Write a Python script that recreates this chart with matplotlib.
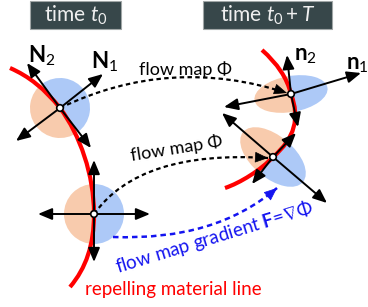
import matplotlib.pyplot as plt
from matplotlib.patches import Wedge, Rectangle, FancyArrowPatch, PathPatch, Circle
from matplotlib.path import Path
from matplotlib.transforms import Affine2D

plt.rcParams['font.family'] = ['Lato', 'DejaVu Sans']
plt.rcParams['mathtext.fontset'] = 'custom'
plt.rcParams['mathtext.rm'] = 'Lato'
plt.rcParams['mathtext.it'] = 'Lato:italic'
plt.rcParams['mathtext.bf'] = 'Lato:bold'
plt.rcParams['mathtext.fallback'] = 'stixsans'

# material points (picture pixels, y down)
p_tl = (60, 108)   # time t0, upper
p_bl = (94, 214)   # time t0, lower
p_tr = (291, 94)   # time t0+T, upper
p_br = (273, 157)  # time t0+T, lower

# tips of the double arrows through each point
tips_tl = [(27, 63), (91, 148), (103, 74), (16, 141)]
tips_bl = [(94, 160), (94, 262), (38, 214), (150, 214)]
tips_tr = [(287, 55), (298, 127), (361, 73), (224, 107)]
tips_br = [(296, 133), (252, 184), (327, 203), (222, 113)]

# red material lines (bezier control points)
red_left = [(10, 68), (38, 80), (60, 108), (80, 135), (94, 175), (94, 214),
            (94, 245), (86, 268), (70, 287)]
red_left_codes = [Path.MOVETO, Path.CURVE3, Path.CURVE3] + [Path.CURVE4] * 6
red_right = [(262, 50), (285, 70), (291, 94), (300, 118), (295, 138), (273, 157),
             (261, 170), (240, 183), (225, 188)]
red_right_codes = red_left_codes

# flow map curves (quadratic: start, control, end)
flow_top = [(60, 108), (170, 55), (287, 93)]
flow_mid = [(94, 214), (140, 150), (268, 158)]
flow_grad = [(113, 237), (215, 241), (277, 188)]

orange = '#f8cbad'
blue = '#adc9f7'
red = '#ff0000'
dblue = '#1414f0'

fig = plt.figure(figsize=(3.68, 3.07), dpi=100)
ax = fig.add_axes([0, 0, 1, 1])
ax.set_xlim(0, 368)
ax.set_ylim(307, 0)
ax.set_aspect('equal')
ax.axis('off')

# title boxes
for (x0, x1), txt in [((30, 121), 'time $t_{\\mathit{0}}$'),
                      ((203, 332), 'time $t_{\\mathit{0}} + T$')]:
    ax.add_patch(Rectangle((x0, 1), x1 - x0, 28, fc='#37474a', ec='#a0a6a6', lw=0.8))
    ax.text((x0 + x1) / 2, 15, txt, color='#f0f0f0', fontsize=15,
            ha='center', va='center')

# disks / ellipses split by the material line
def half_shape(c, a, b, ang, t1, t2, col):
    tr = Affine2D().scale(a, b).rotate_deg(ang).translate(*c) + ax.transData
    ax.add_patch(Wedge((0, 0), 1, t1, t2, fc=col, ec='none', transform=tr))

half_shape(p_tl, 30, 30, -126, 0, 180, blue)
half_shape(p_tl, 30, 30, -126, 180, 360, orange)
half_shape(p_bl, 30, 30, 0, -90, 90, blue)
half_shape(p_bl, 30, 30, 0, 90, 270, orange)
half_shape(p_tr, 37, 18, -10, -90, 90, blue)
half_shape(p_tr, 37, 18, -10, 90, 270, orange)
half_shape(p_br, 39, 21, 40, -90, 90, blue)
half_shape(p_br, 39, 21, 40, 90, 270, orange)

# red lines
for pts, codes in [(red_left, red_left_codes), (red_right, red_right_codes)]:
    ax.add_patch(PathPatch(Path(pts, codes), fc='none', ec=red, lw=3,
                           capstyle='butt'))

# dashed flow map arrows
def dashed_arrow(pts, col, ls, lw):
    ax.add_patch(PathPatch(Path(pts, [Path.MOVETO, Path.CURVE3, Path.CURVE3]),
                           fc='none', ec=col, lw=lw, ls=ls))
    (cx, cy), (ex, ey) = pts[1], pts[2]
    d = ((ex - cx) ** 2 + (ey - cy) ** 2) ** 0.5
    start = (ex - 4 * (ex - cx) / d, ey - 4 * (ey - cy) / d)
    ax.add_patch(FancyArrowPatch(start, (ex, ey), color=col, lw=0.5,
                                 arrowstyle='-|>,head_length=0.6,head_width=0.25',
                                 mutation_scale=14, shrinkA=0, shrinkB=0))

dashed_arrow(flow_top, 'k', (0, (2, 1.5)), 1.6)
dashed_arrow(flow_mid, 'k', (0, (2, 1.5)), 1.6)
dashed_arrow(flow_grad, dblue, (0, (2.2, 1.6)), 1.8)

# solid double arrows
for c, tips in [(p_tl, tips_tl), (p_bl, tips_bl), (p_tr, tips_tr), (p_br, tips_br)]:
    for t in tips:
        ax.add_patch(FancyArrowPatch(c, t, color='k', lw=1.4,
                                     arrowstyle='-|>,head_length=0.6,head_width=0.25',
                                     mutation_scale=14, shrinkA=0, shrinkB=0))
    ax.add_patch(Circle(c, 3.3, fc='white', ec='k', lw=1.2, zorder=5))

# labels
ax.text(42, 56, '$\\mathbf{N}_2$', fontsize=16, ha='center', va='center')
ax.text(105, 62, '$\\mathbf{N}_1$', fontsize=16, ha='center', va='center')
ax.text(305, 56, '$\\mathbf{n}_2$', fontsize=16, ha='center', va='center')
ax.text(357, 65, '$\\mathbf{n}_1$', fontsize=16, ha='center', va='center')
ax.text(185, 70, 'flow map \u03a6', fontsize=13, ha='center', va='center')
ax.text(177, 148, 'flow map \u03a6', fontsize=13, ha='center', va='center',
        rotation=9)
ax.text(214, 237, 'flow map gradient $\\mathbf{F}$=$\\nabla\\Phi$', fontsize=13.5,
        color=dblue, ha='center', va='center', rotation=17)
ax.text(173, 290, 'repelling material line', fontsize=13.5, color=red,
        ha='center', va='center')

fig.savefig('out.png', dpi=100)
